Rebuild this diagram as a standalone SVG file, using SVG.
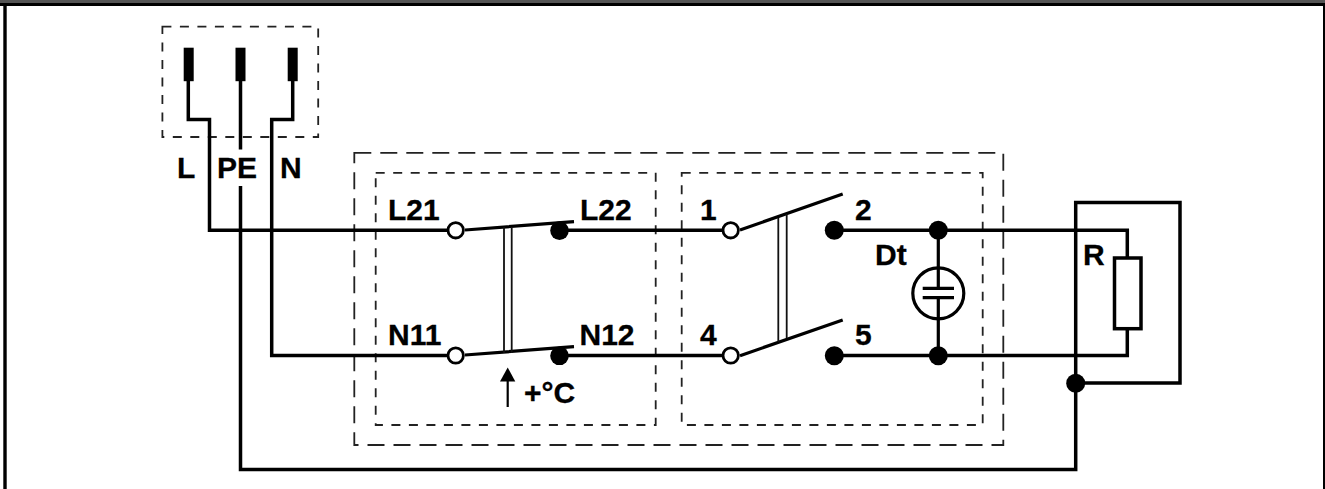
<svg xmlns="http://www.w3.org/2000/svg" width="1325" height="489" viewBox="0 0 1325 489">
<style>
.w{fill:none;stroke:#000;stroke-width:3.500;stroke-linejoin:miter}
.s{fill:none;stroke:#000;stroke-width:3.200}
.t{fill:none;stroke:#111;stroke-width:1.800}
.d{fill:none;stroke:#222;stroke-width:1.800;stroke-dasharray:9 8.500}
.d2{fill:none;stroke:#222;stroke-width:1.800;stroke-dasharray:17 9}
.l{font-family:"Liberation Sans",Arial,sans-serif;font-weight:bold;font-size:30px;fill:#000;stroke:#000;stroke-width:0.300}
.o{fill:#fff;stroke:#000;stroke-width:2.800}
.f{fill:#000}
</style>
<rect x="0" y="0" width="1325" height="489" fill="#fff"/>
<g id="frame">
<rect x="0" y="0" width="1325" height="3" fill="#555"/>
<rect x="0" y="3" width="1325" height="3" fill="#000"/>
<rect x="3.300" y="3" width="3.400" height="486" fill="#000"/>
<rect x="1323" y="3" width="2" height="486" fill="#000"/>
</g>
<g id="enclosures">
<rect id="plug-box" class="d" x="162.400" y="26.700" width="155.800" height="110.300"/>
<rect id="outer-box" class="d2" x="354.300" y="152.800" width="649" height="292.200"/>
<rect id="left-box" class="d" x="375.700" y="172.800" width="280" height="252.200"/>
<rect id="right-box" class="d" x="681.700" y="172.800" width="301" height="252.200"/>
</g>
<g id="connectors">
<path class="w" d="M188.300 75V119.600H209.500V230.300H447"/>
<path class="w" d="M240.500 75V149.500M240.500 186V469.500H1075.700V202.400H1180V383H1075.700"/>
<path class="w" d="M292.700 75V119.600H271.700V355.500H447"/>
<path class="w" d="M560 230.300H722M560 355.500H722"/>
<path class="w" d="M834 230.300H1127.300V258M1127.300 329V355.500H834"/>
<path class="s" d="M465 230L574 221.700M465 355L574 346.700M740 230L842.700 194M740 355.700L842.700 320"/>
<path class="t" d="M504 227V353M511.700 227V353M778.300 218V342M786.700 214V338"/>
<path class="s" style="stroke-width:2.200" d="M507.700 407V378"/>
</g>
<g id="plug-pins">
<rect class="f" x="183.700" y="47.700" width="10" height="33.500"/>
<rect class="f" x="235.500" y="47.700" width="10" height="33.500"/>
<rect class="f" x="287.700" y="47.700" width="10" height="33.500"/>
</g>
<g id="contacts">
<circle class="o" cx="455.700" cy="230.300" r="7.700"/>
<circle class="o" cx="455.700" cy="355.500" r="7.700"/>
<circle class="f" cx="559.500" cy="230.600" r="9.300"/>
<circle class="f" cx="559.500" cy="355.800" r="9.300"/>
<circle class="o" cx="730.700" cy="230.300" r="7.700"/>
<circle class="o" cx="730.700" cy="355.500" r="7.700"/>
<circle class="f" cx="834.300" cy="230.300" r="9.500"/>
<circle class="f" cx="834.300" cy="355.800" r="9.500"/>
<circle class="f" cx="938.300" cy="230.300" r="9.500"/>
<circle class="f" cx="938.300" cy="355.800" r="9.500"/>
<circle class="f" cx="1075.700" cy="383.300" r="9.500"/>
</g>
<g id="arrow"><polygon class="f" points="507.700,367.500 500,381.500 515.300,381.500"/></g>
<g id="discharger">
<circle class="s" cx="938.300" cy="293.300" r="25.500"/>
<path class="s" d="M922.700 288.300H954M922.700 297.700H954M938.300 231V288.300M938.300 297.700V355"/>
</g>
<g id="resistor"><rect class="w" fill="#fff" x="1114.500" y="258" width="26.500" height="70.700"/></g>
<g id="labels">
<text class="l" x="177" y="178">L</text>
<text class="l" x="217" y="178">PE</text>
<text class="l" x="280" y="178">N</text>
<text class="l" x="388" y="220">L21</text>
<text class="l" x="580" y="220">L22</text>
<text class="l" x="700" y="220">1</text>
<text class="l" x="855" y="220">2</text>
<text class="l" x="388" y="345">N11</text>
<text class="l" x="579.500" y="345">N12</text>
<text class="l" x="700" y="345">4</text>
<text class="l" x="855" y="345">5</text>
<text class="l" x="875" y="265">Dt</text>
<text class="l" x="1083" y="265">R</text>
<text class="l" x="524" y="403">+°C</text>
</g>
</svg>
